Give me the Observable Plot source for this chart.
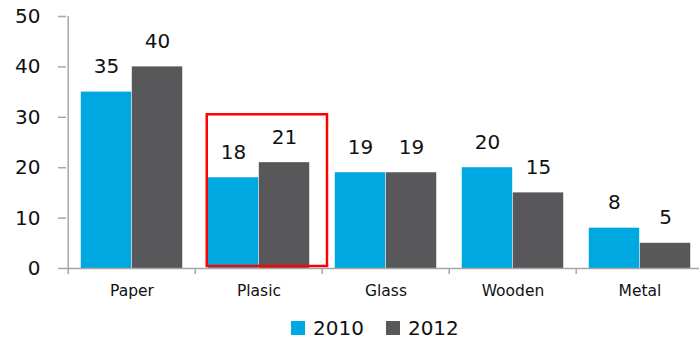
<!DOCTYPE html>
<html>
<head>
<meta charset="utf-8">
<script src="https://cdn.jsdelivr.net/npm/d3@7"></script>
<script src="https://cdn.jsdelivr.net/npm/@observablehq/plot@0.6"></script>
<style>
  html, body { margin: 0; padding: 0; background: #fff; overflow: hidden; }
  #chart svg { overflow: visible; }
  .legend { display: flex; gap: 22px; font: 20px "DejaVu Sans", sans-serif; color: #111;
            position: absolute; left: 291px; top: 316px; }
  .legend span { display: inline-flex; align-items: center; }
  .legend i { display: inline-block; width: 14px; height: 14px; margin-right: 8px; }
</style>
</head>
<body>
<div id="chart"></div>
<script>
// Packaging material by year
const categories = ["Paper", "Plasic", "Glass", "Wooden", "Metal"];
const years = ["2010", "2012"];
const values2010 = [35, 18, 19, 20, 8];
const values2012 = [40, 21, 19, 15, 5];
const yTicks = [0, 10, 20, 30, 40, 50];
const highlightCategory = "Plasic";
const highlightTop = 30.5;

const colors = {"2010": "#00A8E1", "2012": "#58585A"};
const axisColor = "#A6A6A6";

const rows2010 = categories.map((c, i) => ({category: c, year: "2010", value: values2010[i]}));
const rows2012 = categories.map((c, i) => ({category: c, year: "2012", value: values2012[i]}));

const width = 699, height = 305;
const marginLeft = 66, marginRight = -5, marginTop = 16, marginBottom = 37;
const step = (width - marginLeft - marginRight) / categories.length;
const pad = step * 0.1;      // gap at each end of a category
const barW = step * 0.4;     // width of one year's bar

const font = "DejaVu Sans, sans-serif";

const chart = Plot.plot({
  width, height, marginLeft, marginRight, marginTop, marginBottom,
  style: {fontFamily: font, color: "#111", background: "#fff"},
  x: {domain: categories, padding: 0, label: null},
  y: {domain: [0, 50], label: null},
  marks: [
    // bars
    Plot.barY(rows2010, {x: "category", y: "value", fill: colors["2010"],
      insetLeft: pad, insetRight: step - pad - barW}),
    Plot.barY(rows2012, {x: "category", y: "value", fill: colors["2012"],
      insetLeft: pad + barW, insetRight: step - pad - 2 * barW}),
    // value labels
    Plot.text(rows2010, {x: "category", y: "value", text: d => String(d.value),
      dx: -barW / 2, dy: -19, lineAnchor: "bottom", fontSize: 20, fill: "#111"}),
    Plot.text(rows2012, {x: "category", y: "value", text: d => String(d.value),
      dx: barW / 2, dy: -19, lineAnchor: "bottom", fontSize: 20, fill: "#111"}),
    // highlight box
    Plot.barY([{category: highlightCategory, top: highlightTop}], {x: "category", y: "top",
      fill: "none", stroke: "#FF0000", strokeWidth: 2.5,
      insetLeft: pad - 1, insetRight: -5, insetBottom: 2}),
    // axes lines
    Plot.ruleY([0], {stroke: axisColor, strokeWidth: 1.5}),
    Plot.ruleX([categories[0]], {y1: 0, y2: 50, dx: -step / 2, stroke: axisColor, strokeWidth: 1.5}),
    // category boundary ticks
    Plot.ruleX(categories, {y1: 0, y2: 0, dx: -step / 2, insetBottom: -6, stroke: axisColor, strokeWidth: 1.5}),
    Plot.axisY({ticks: yTicks, tickSize: 8, tickPadding: 18, fontSize: 20, stroke: axisColor,
      strokeWidth: 1.5, tickFormat: d => String(d), fill: "#111"}),
    Plot.axisX({tickSize: 0, tickPadding: 16, fontSize: 15.5, fill: "#111"})
  ]
});

document.getElementById("chart").appendChild(chart);

const legend = document.createElement("div");
legend.className = "legend";
for (const y of years) {
  const s = document.createElement("span");
  const sw = document.createElement("i");
  sw.style.background = colors[y];
  s.appendChild(sw);
  s.appendChild(document.createTextNode(y));
  legend.appendChild(s);
}
document.body.appendChild(legend);
</script>
</body>
</html>
